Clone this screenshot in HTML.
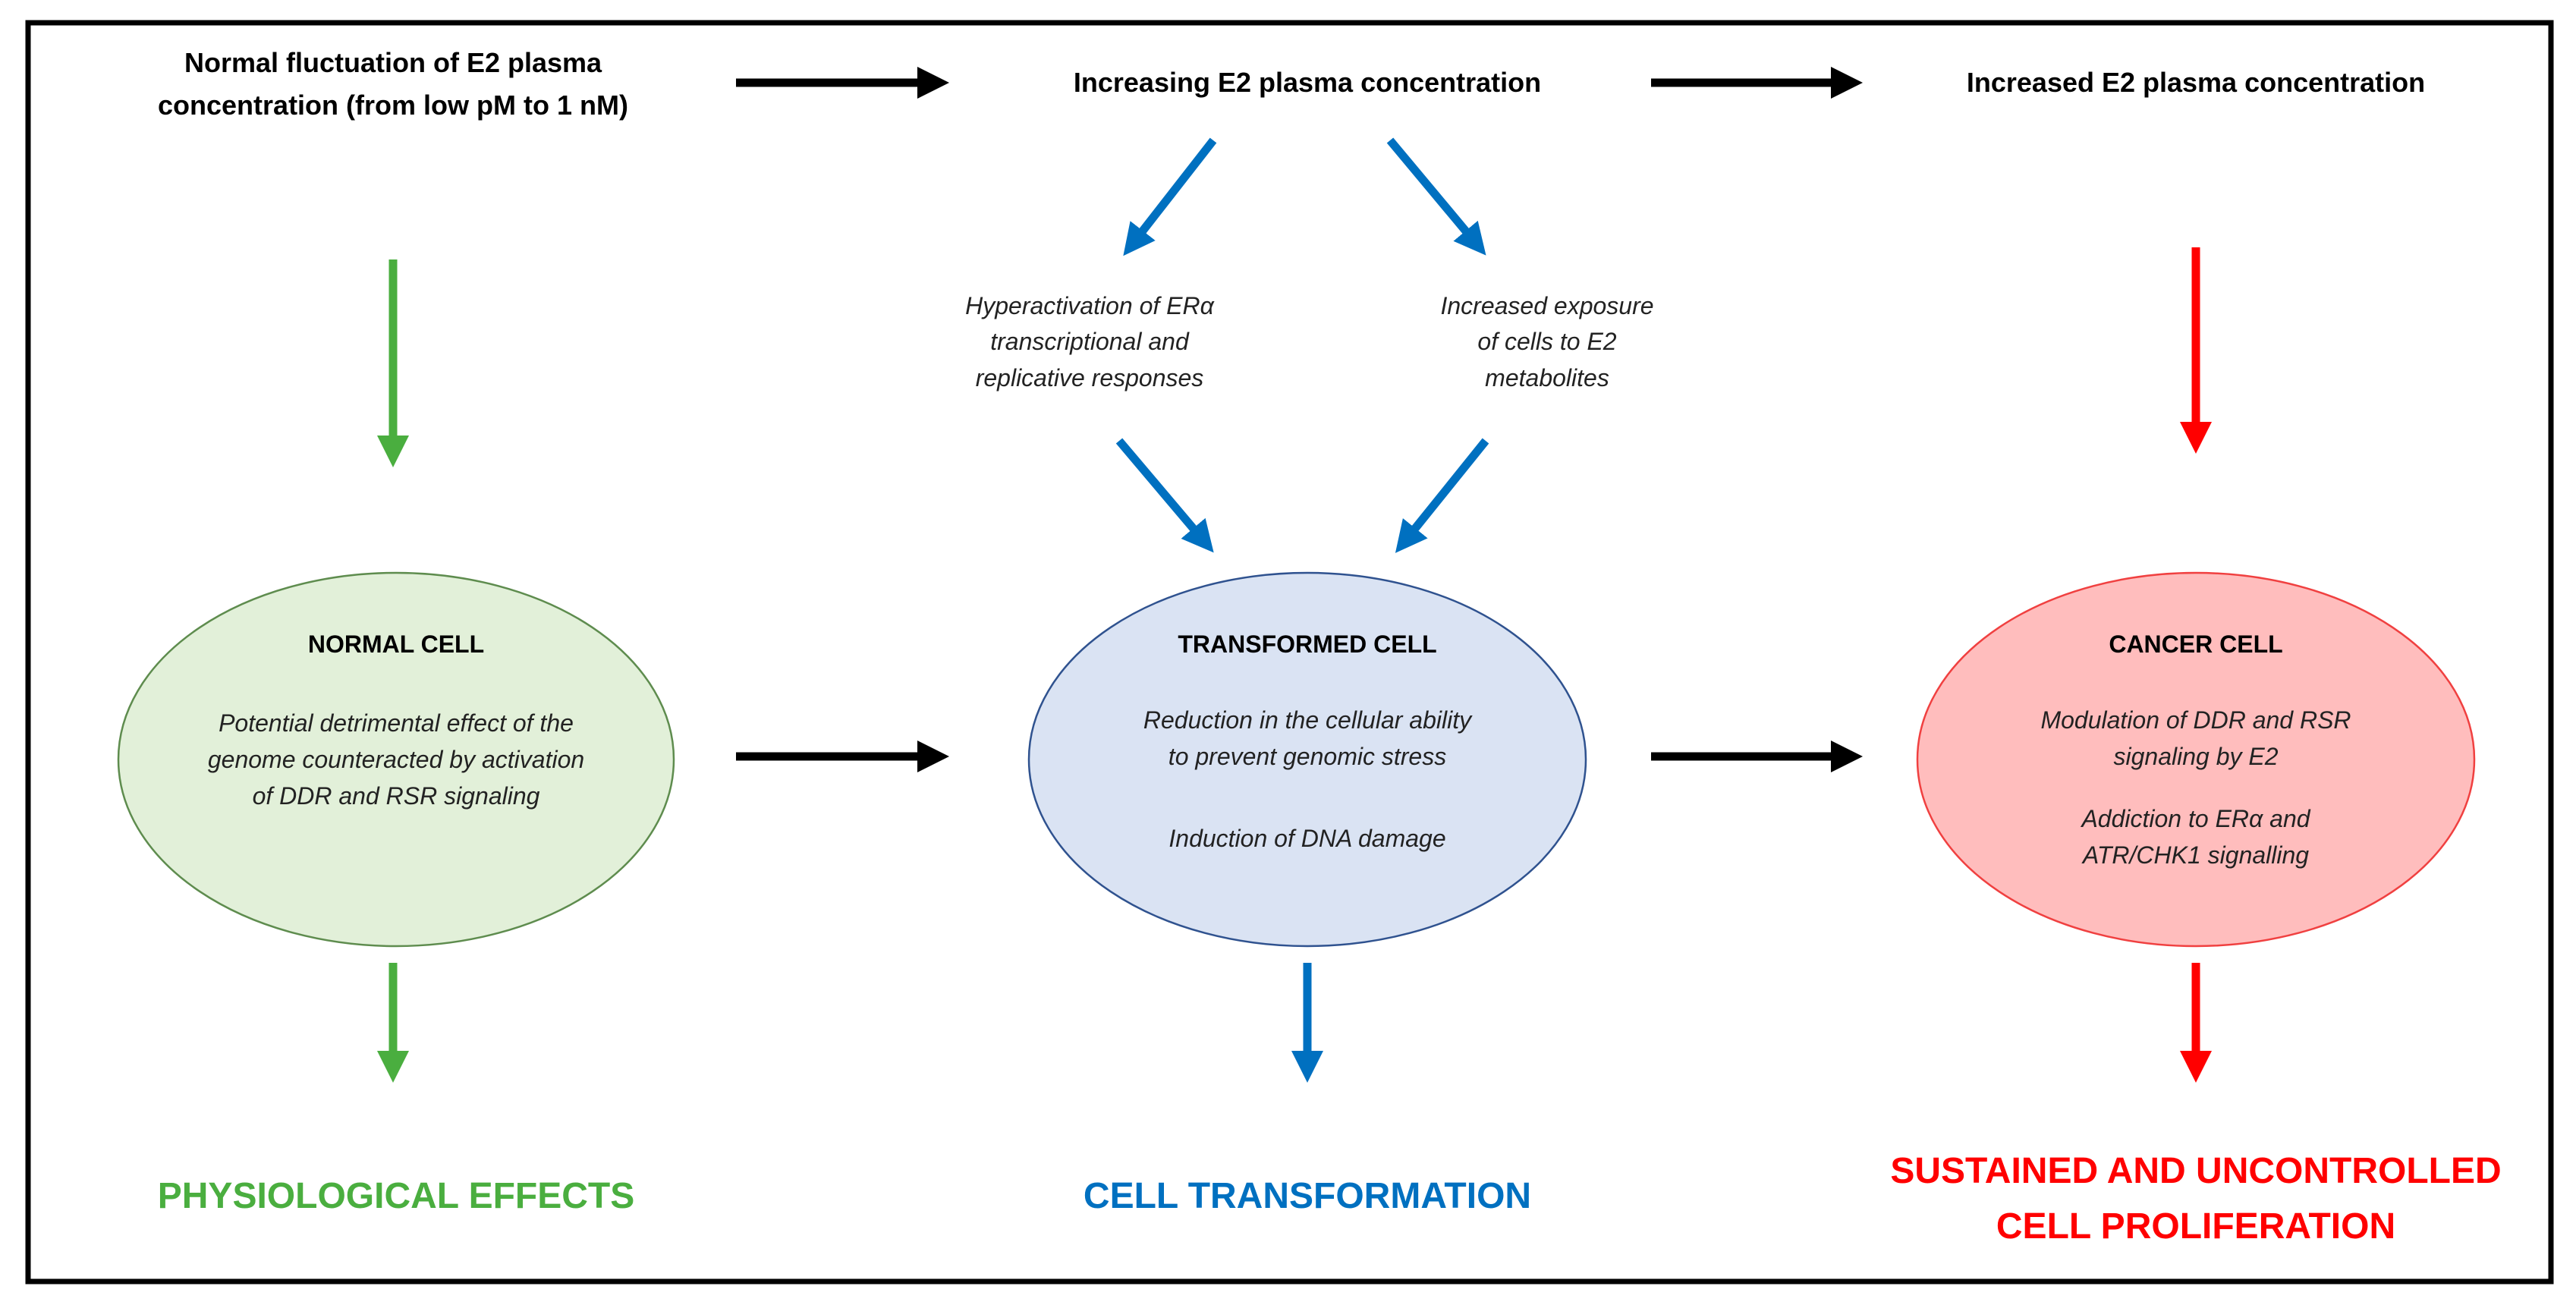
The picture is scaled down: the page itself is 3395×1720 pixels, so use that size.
<!DOCTYPE html>
<html><head><meta charset="utf-8"><style>
html,body{margin:0;padding:0;background:#fff;}
svg{display:block;}
text{font-family:"Liberation Sans",sans-serif;}
.h{font-weight:bold;font-size:36px;fill:#000;}
.i{font-style:italic;font-size:32px;fill:#222;}
.t{font-weight:bold;font-size:32px;fill:#000;}
.b{font-weight:bold;font-size:48px;}
</style></head><body>
<svg width="3395" height="1720" viewBox="0 0 3395 1720" xmlns="http://www.w3.org/2000/svg">
<defs>
<marker id="mk" markerUnits="userSpaceOnUse" markerWidth="50" markerHeight="50" refX="10" refY="25" orient="auto"><path d="M0,4 L42,25 L0,46 Z" fill="#000"/></marker>
<marker id="mb" markerUnits="userSpaceOnUse" markerWidth="50" markerHeight="50" refX="10" refY="25" orient="auto"><path d="M0,4 L42,25 L0,46 Z" fill="#0070C0"/></marker>
<marker id="mg" markerUnits="userSpaceOnUse" markerWidth="50" markerHeight="50" refX="10" refY="25" orient="auto"><path d="M0,4 L42,25 L0,46 Z" fill="#4AAE3F"/></marker>
<marker id="mr" markerUnits="userSpaceOnUse" markerWidth="50" markerHeight="50" refX="10" refY="25" orient="auto"><path d="M0,4 L42,25 L0,46 Z" fill="#FF0000"/></marker>
</defs>
<rect x="37" y="30" width="3325" height="1659" fill="#fff" stroke="#000" stroke-width="7"/>

<g text-anchor="middle">
<text class="h" x="518" y="95">Normal fluctuation of E2 plasma</text>
<text class="h" x="518" y="151">concentration (from low pM to 1 nM)</text>
<text class="h" x="1723" y="121">Increasing E2 plasma concentration</text>
<text class="h" x="2894" y="121">Increased E2 plasma concentration</text>
</g>

<g stroke-width="11" fill="none">
<line x1="970" y1="109" x2="1219" y2="109" stroke="#000" marker-end="url(#mk)"/>
<line x1="2176" y1="109" x2="2423" y2="109" stroke="#000" marker-end="url(#mk)"/>
<line x1="970" y1="997" x2="1219" y2="997" stroke="#000" marker-end="url(#mk)"/>
<line x1="2176" y1="997" x2="2423" y2="997" stroke="#000" marker-end="url(#mk)"/>
<line x1="1599" y1="185" x2="1500" y2="312" stroke="#0070C0" marker-end="url(#mb)"/>
<line x1="1832" y1="185" x2="1938" y2="312" stroke="#0070C0" marker-end="url(#mb)"/>
<line x1="1475" y1="581" x2="1579" y2="704" stroke="#0070C0" marker-end="url(#mb)"/>
<line x1="1958" y1="581" x2="1859" y2="704" stroke="#0070C0" marker-end="url(#mb)"/>
<line x1="518" y1="342" x2="518" y2="584" stroke="#4AAE3F" marker-end="url(#mg)"/>
<line x1="2894" y1="326" x2="2894" y2="566" stroke="#FF0000" marker-end="url(#mr)"/>
<line x1="518" y1="1269" x2="518" y2="1395" stroke="#4AAE3F" marker-end="url(#mg)"/>
<line x1="1723" y1="1269" x2="1723" y2="1395" stroke="#0070C0" marker-end="url(#mb)"/>
<line x1="2894" y1="1269" x2="2894" y2="1395" stroke="#FF0000" marker-end="url(#mr)"/>
</g>

<g text-anchor="middle">
<text class="i" x="1436" y="414">Hyperactivation of ERα</text>
<text class="i" x="1436" y="461">transcriptional  and</text>
<text class="i" x="1436" y="509">replicative responses</text>
<text class="i" x="2039" y="414">Increased exposure</text>
<text class="i" x="2039" y="461">of cells to E2</text>
<text class="i" x="2039" y="509">metabolites</text>
</g>

<ellipse cx="522" cy="1001" rx="366" ry="246" fill="#E2F0D9" stroke="#5E8C4E" stroke-width="2.5"/>
<ellipse cx="1723" cy="1001" rx="367" ry="246" fill="#DAE3F3" stroke="#2F528F" stroke-width="2.5"/>
<ellipse cx="2894" cy="1001" rx="367" ry="246" fill="#FFBDBD" stroke="#F04040" stroke-width="2.5"/>

<g text-anchor="middle">
<text class="t" x="522" y="860">NORMAL CELL</text>
<text class="i" x="522" y="964">Potential detrimental effect of the</text>
<text class="i" x="522" y="1012">genome counteracted by activation</text>
<text class="i" x="522" y="1060">of DDR and RSR signaling</text>

<text class="t" x="1723" y="860">TRANSFORMED CELL</text>
<text class="i" x="1723" y="960">Reduction in the cellular ability</text>
<text class="i" x="1723" y="1008">to prevent genomic stress</text>
<text class="i" x="1723" y="1116">Induction of DNA damage</text>

<text class="t" x="2894" y="860">CANCER CELL</text>
<text class="i" x="2894" y="960">Modulation of DDR and RSR</text>
<text class="i" x="2894" y="1008">signaling by E2</text>
<text class="i" x="2894" y="1090">Addiction to ERα and</text>
<text class="i" x="2894" y="1138">ATR/CHK1 signalling</text>

<text class="b" x="522" y="1592" fill="#4AAE3F">PHYSIOLOGICAL EFFECTS</text>
<text class="b" x="1723" y="1592" fill="#0070C0">CELL TRANSFORMATION</text>
<text class="b" x="2894" y="1559" fill="#FF0000">SUSTAINED AND UNCONTROLLED</text>
<text class="b" x="2894" y="1632" fill="#FF0000">CELL PROLIFERATION</text>
</g>
</svg>
</body></html>
